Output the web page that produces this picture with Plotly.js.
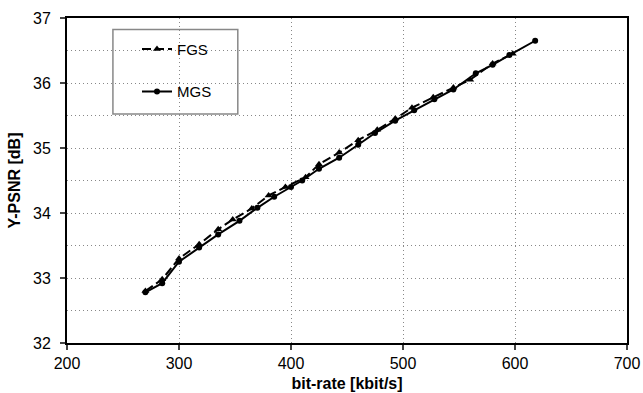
<!DOCTYPE html>
<html><head><meta charset="utf-8">
<script src="https://cdn.plot.ly/plotly-3.0.1.min.js"></script>
<style>html,body{margin:0;padding:0;background:#fff}</style>
</head><body>
<div id="chart" style="width:643px;height:393px"></div>
<script>
const fgsRate = [270,285,300,318,335,348,365,380,395,413,425,443,460,477,493,508,527,545,560,580,598];
const fgsPsnr = [32.80,32.98,33.30,33.52,33.75,33.90,34.07,34.27,34.40,34.55,34.75,34.93,35.12,35.28,35.45,35.62,35.78,35.93,36.05,36.30,36.45];
const mgsRate = [270,285,300,318,335,354,370,385,400,410,425,443,460,475,493,510,528,545,565,580,595,618];
const mgsPsnr = [32.78,32.92,33.25,33.47,33.67,33.88,34.08,34.25,34.40,34.50,34.68,34.85,35.05,35.23,35.42,35.58,35.75,35.90,36.15,36.28,36.43,36.65];
const xTicks = [200,300,400,500,600,700];
const yTicks = [32,33,34,35,36,37];

const font = 'Arial, "Liberation Sans", sans-serif';
const grid = {showgrid: true, gridcolor: '#888', griddash: '1px,3px', gridwidth: 1};
const traces = [
  {x: fgsRate, y: fgsPsnr, name: 'FGS', mode: 'lines+markers', legendgroup: 'a',
   line: {color: '#000', width: 2, dash: '9px,4px'}, marker: {symbol: 'triangle-up', size: 7, color: '#000'}},
  {x: mgsRate, y: mgsPsnr, name: 'MGS', mode: 'lines+markers', legendgroup: 'b',
   line: {color: '#000', width: 2}, marker: {symbol: 'circle', size: 6, color: '#000'}}
];
const layout = {
  width: 643, height: 393,
  margin: {l: 67, r: 16, t: 18, b: 50},
  paper_bgcolor: '#fff', plot_bgcolor: '#fff',
  font: {family: font, color: '#000'},
  showlegend: true,
  legend: {x: 0.125, y: 0.955, xanchor: 'left', yanchor: 'top', bgcolor: 'rgba(0,0,0,0)',
           borderwidth: 0, font: {size: 15, family: font}, traceorder: 'grouped', tracegroupgap: 20},
  xaxis: Object.assign({range: [200, 700], tickvals: xTicks, ticks: 'outside', ticklen: 5, tickwidth: 1.5,
          showline: true, linecolor: '#000', linewidth: 2, mirror: true, zeroline: false,
          tickfont: {size: 16}, title: {text: '<b>bit-rate [kbit/s]</b>', font: {size: 16}, standoff: 7}}, grid),
  yaxis: Object.assign({range: [32, 37], tickvals: yTicks, ticks: 'outside', ticklen: 5, tickwidth: 1.5,
          ticklabelstandoff: 6,
          showline: true, linecolor: '#000', linewidth: 2, mirror: true, zeroline: false,
          minor: Object.assign({dtick: 0.5}, grid),
          tickfont: {size: 16}, title: {text: '<b>Y-PSNR [dB]</b>', font: {size: 16}, standoff: 8}}, grid),
  shapes: [{type: 'rect', xref: 'paper', yref: 'paper', x0: 0.082, x1: 0.305, y0: 0.705, y1: 0.965,
            line: {color: '#888', width: 1.5}, fillcolor: '#fff', layer: 'below'}]
};
Plotly.newPlot('chart', traces, layout, {displayModeBar: false, staticPlot: true});
</script>
</body></html>
